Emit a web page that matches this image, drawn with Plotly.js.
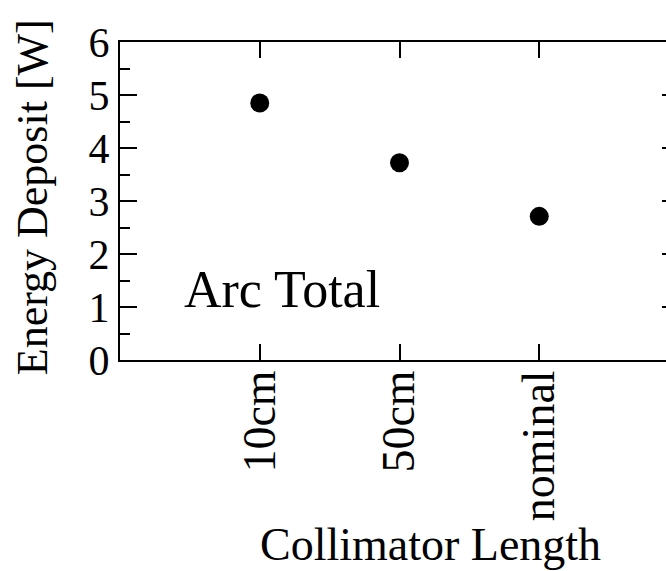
<!DOCTYPE html>
<html>
<head>
<meta charset="utf-8">
<script src="https://cdn.plot.ly/plotly-3.0.1.min.js"></script>
<style>
html,body{margin:0;padding:0;overflow:hidden;background:#fff;}
#chart{width:700px;height:571px;}
</style>
</head>
<body>
<div id="chart"></div>
<script>
const categories = ["10cm", "50cm", "nominal"];
const energyDeposit = [4.85, 3.72, 2.71];
const yTickValues = [0, 1, 2, 3, 4, 5, 6];
const yTickLabels = ["0", "1", "2", "3", "4", "5", "6"];
const annotationText = "Arc Total";
const xTitle = "Collimator Length";
const yTitle = "Energy Deposit [W]";

const FONT = "'Liberation Serif', 'Times New Roman', serif";

const trace = {
  x: categories.map((c, i) => i),
  y: energyDeposit,
  type: "scatter",
  mode: "markers",
  marker: {color: "#000", size: 19},
  hoverinfo: "skip",
  showlegend: false
};

const layout = {
  width: 700,
  height: 571,
  margin: {l: 120, r: 21, t: 42, b: 211, pad: 0},
  paper_bgcolor: "#fff",
  plot_bgcolor: "#fff",
  font: {family: FONT, color: "#000", size: 40},
  xaxis: {
    range: [-1, 3],
    tickmode: "array",
    tickvals: categories.map((c, i) => i),
    ticktext: categories,
    tickangle: -90,
    ticks: "inside",
    ticklen: 16,
    tickwidth: 2,
    tickcolor: "#000",
    ticklabelstandoff: -10,
    showline: true,
    linewidth: 2,
    linecolor: "#000",
    mirror: "ticks",
    showgrid: false,
    zeroline: false,
    tickfont: {family: FONT, size: 46, color: "#000"}
  },
  yaxis: {
    range: [0, 6],
    tickmode: "array",
    tickvals: yTickValues,
    ticktext: yTickLabels,
    ticks: "inside",
    ticklen: 17,
    tickwidth: 2,
    tickcolor: "#000",
    minor: {dtick: 0.5, ticks: "inside", ticklen: 10, tickwidth: 2, tickcolor: "#000", showgrid: false},
    showline: true,
    linewidth: 2,
    linecolor: "#000",
    mirror: "ticks",
    showgrid: false,
    zeroline: false,
    tickfont: {family: FONT, size: 42, color: "#000"}
  },
  annotations: [
    {
      text: annotationText,
      xref: "paper", yref: "y",
      x: 0.111, y: 1.33,
      xanchor: "left", yanchor: "middle",
      showarrow: false,
      font: {family: FONT, size: 52, color: "#000"}
    },
    {
      text: xTitle,
      xref: "paper", yref: "paper",
      x: 0.555, y: -0.58,
      xanchor: "center", yanchor: "middle",
      showarrow: false,
      font: {family: FONT, size: 46, color: "#000"}
    },
    {
      text: yTitle,
      xref: "paper", yref: "paper",
      x: -0.155, y: 0.513,
      xanchor: "center", yanchor: "middle",
      textangle: -90,
      showarrow: false,
      font: {family: FONT, size: 44, color: "#000"}
    }
  ]
};

Plotly.newPlot("chart", [trace], layout, {displayModeBar: false, staticPlot: true});
</script>
</body>
</html>
